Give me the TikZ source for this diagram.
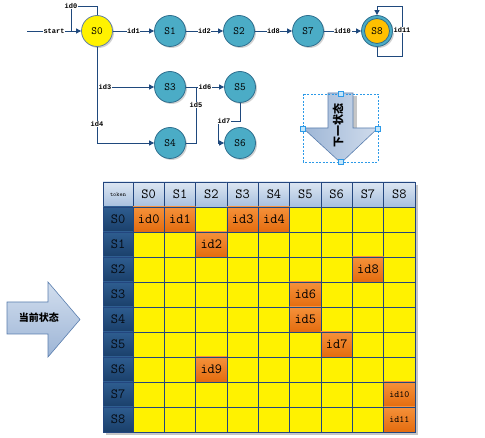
\documentclass[tikz,border=0pt]{standalone}
\usepackage{fontspec}
\newfontfamily\cjk{Noto Sans CJK SC}
\newfontfamily\lab{Liberation Mono}
\usetikzlibrary{arrows.meta,shadows}
\definecolor{navy}{HTML}{1F497D}
\definecolor{gridc}{HTML}{23467F}
\definecolor{tealc}{HTML}{4BACC6}
\definecolor{tealb}{HTML}{2F6F8F}
\definecolor{goldc}{HTML}{FFC000}
\definecolor{selblue}{HTML}{2C9AE8}
\definecolor{arrb}{HTML}{5A7EAE}
\definecolor{orgtop}{HTML}{F5913A}
\definecolor{orgbot}{HTML}{E46C0E}
\definecolor{hdtop}{HTML}{DCE6F2}
\definecolor{hdbot}{HTML}{A7BFDE}
\definecolor{rhtop}{HTML}{2E5D90}
\definecolor{rhbot}{HTML}{1A3F6A}
\definecolor{hfill}{HTML}{C5E6FA}
\definecolor{dal}{HTML}{9EB6D6}
\definecolor{dar}{HTML}{D0DCEC}
\definecolor{lat}{HTML}{D2DEEE}
\definecolor{lab}{HTML}{9DB5D6}
\begin{document}
\begin{tikzpicture}[x=1pt,y=-1pt,
  st/.style={circle, minimum size=31pt, inner sep=0pt, draw=tealb, line width=0.8pt,
    fill=tealc, font=\ttfamily\fontsize{11}{11}\selectfont,
    drop shadow={shadow xshift=1.5pt, shadow yshift=-1.5pt, fill=gray!70}},
  ln/.style={draw=navy, line width=0.9pt},
  arr/.style={ln, -{Triangle[length=5pt,width=5pt]}},
  lbl/.style={fill=white, inner sep=0.6pt, font=\lab\bfseries\fontsize{7}{7}\selectfont},
  cellbase/.style={rectangle, draw=gridc, line width=0.8pt, minimum width=31.33pt, minimum height=25pt, inner sep=0pt},
  ycell/.style={cellbase, fill=yellow},
  ocell/.style={cellbase, top color=orgtop, bottom color=orgbot, draw=gridc},
  hdr/.style={cellbase, top color=hdtop, bottom color=hdbot, font=\ttfamily\fontsize{14}{14}\selectfont},
  rowh/.style={cellbase, minimum width=30pt, top color=rhtop, bottom color=rhbot, text=black!85!navy, font=\ttfamily\fontsize{14}{14}\selectfont},
  handle/.style={rectangle, minimum size=5pt, inner sep=0pt, fill=hfill, draw=selblue, line width=0.6pt},
  bigarr/.style={draw=arrb, line width=0.6pt}
]
\useasboundingbox (0,0) rectangle (485,438);

% ---------- graph ----------
\node[st, fill=yellow, draw=navy!70] (s0) at (97,31) {S0};
\node[st] (s1) at (170,31) {S1};
\node[st] (s2) at (239,31) {S2};
\node[st] (s7) at (308,31) {S7};
\node[st] (s8) at (377,31) {};
\node[circle, minimum size=25pt, inner sep=0pt, fill=goldc, draw=tealb, line width=0.8pt,
  font=\ttfamily\fontsize{11}{11}\selectfont] (s8i) at (s8) {S8};
\node[st] (s3) at (170,87) {S3};
\node[st] (s5) at (240,87) {S5};
\node[st] (s4) at (170,143) {S4};
\node[st] (s6) at (240,143) {S6};

\coordinate (st0) at (27,31);
\coordinate (k0) at (71,6);
\coordinate (j0) at (71,31);
\draw[arr] (st0) -- node[lbl] (lst) {start} (s0);
\draw[ln] (s0.north) |- (k0) -- (j0);
\node[lbl] (l0) at (k0) {id0};
\draw[arr] (s0) -- node[lbl] (l1) {id1} (s1);
\draw[arr] (s1) -- node[lbl] (l2) {id2} (s2);
\draw[arr] (s2) -- node[lbl] (l8) {id8} (s7);
\draw[arr] (s7) -- node[lbl] (l10) {id10} (s8);
\coordinate (q1) at (402,56);
\coordinate (q2) at (402,6);
\draw[arr] (s8.south) |- (q1) -- (q2) -| (s8.north);
\node[lbl] (l11) at (402,30) {id11};

\coordinate (d3) at (97,87);
\draw[arr] (s0.south) |- (s4);
\draw[arr] (d3) -- (s3);
\node[lbl] (l3) at (105,87) {id3};
\node[lbl] (l4) at (97,124) {id4};
\draw[arr] (s3) -- node[lbl] (l6) {id6} (s5);
\coordinate (d5) at (196,87);
\draw[ln] (s4) -| (d5);
\node[lbl] (l5) at (196,105) {id5};
\coordinate (d7) at (218,121);
\draw[arr] (s5.south) |- (d7) |- (s6);
\node[lbl] (l7) at (224,121) {id7};

% ---------- down arrow ----------
\fill[gray!45] (353,96) rectangle (357,128);
\draw[bigarr, left color=dal, right color=dar]
  (328,93) -- (353,93) -- (353,128) -- (378,128) -- (341,163) -- (303,128) -- (328,128) -- cycle;
\node[rotate=90, font=\cjk\bfseries\fontsize{11}{11}\selectfont] (nxt) at (338,126) {下一状态};
\draw[selblue, line width=0.6pt, dash pattern=on 2pt off 1.5pt] (303,94) rectangle (378,162);
\node[handle] (hd1) at (341,94) {};
\node[handle] (hd2) at (303,129) {};
\node[handle] (hd3) at (378,129) {};
\node[handle] (hd4) at (341,162) {};

% ---------- left arrow ----------
\draw[bigarr, top color=lat, bottom color=lab]
  (7,302) -- (48,302) -- (48,282) -- (80,319.5) -- (48,357) -- (48,334) -- (7,334) -- cycle;
\node[font=\cjk\bfseries\fontsize{10}{10}\selectfont] (cur) at (39,318) {当前状态};

% ---------- table ----------
\fill[gray!45] (106,185) rectangle (418,435);
\node[cellbase, minimum width=30pt, top color=hdtop, bottom color=hdbot,
  font=\ttfamily\fontsize{6}{6}\selectfont] (tok) at (118,194.5) {token};
\foreach \j in {0,...,8} {
  \node[hdr] (h\j) at ({148.67+31.33*\j},194.5) {S\j};
  \node[rowh] (r\j) at (118,{219.5+25*\j}) {S\j};
}
\foreach \i in {0,...,8} {
  \foreach \j in {0,...,8} {
    \node[ycell] (c\i\j) at ({148.67+31.33*\j},{219.5+25*\i}) {};
  }
}
\foreach \i/\j/\t/\s in {0/0/id0/14, 0/1/id1/14, 0/3/id3/14, 0/4/id4/14, 1/2/id2/14,
   2/7/id8/14, 3/5/id6/14, 4/5/id5/14, 5/6/id7/14, 6/2/id9/14, 7/8/id10/9.5, 8/8/id11/9.5} {
  \node[ocell, font=\ttfamily\fontsize{\s}{\s}\selectfont] (o\i\j) at ({148.67+31.33*\j},{219.5+25*\i}) {\t};
}
\end{tikzpicture}
\end{document}
